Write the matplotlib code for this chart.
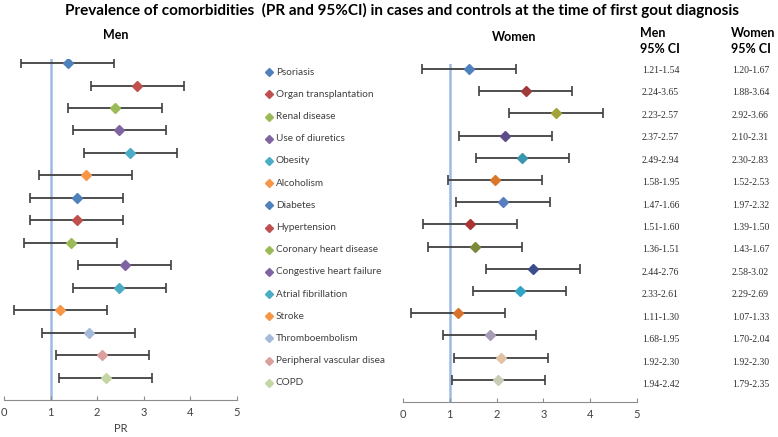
import matplotlib.pyplot as plt

# comorbidities, top to bottom
conditions = ["Psoriasis", "Organ transplantation", "Renal disease", "Use of diuretics",
              "Obesity", "Alcoholism", "Diabetes", "Hypertension", "Coronary heart disease",
              "Congestive heart failure", "Atrial fibrillation", "Stroke", "Thromboembolism",
              "Peripheral vascular disea", "COPD"]

# prevalence ratios
men_pr = [1.37, 2.86, 2.38, 2.47, 2.71, 1.75, 1.56, 1.56, 1.43, 2.59, 2.47, 1.21, 1.82, 2.11, 2.18]
women_pr = [1.41, 2.62, 3.27, 2.19, 2.55, 1.97, 2.14, 1.43, 1.54, 2.78, 2.49, 1.18, 1.85, 2.10, 2.04]
bar_err = 1.0  # the bars in the original are a fixed +/-1

men_ci = ["1.21-1.54", "2.24-3.65", "2.23-2.57", "2.37-2.57", "2.49-2.94", "1.58-1.95",
          "1.47-1.66", "1.51-1.60", "1.36-1.51", "2.44-2.76", "2.33-2.61", "1.11-1.30",
          "1.68-1.95", "1.92-2.30", "1.94-2.42"]
women_ci = ["1.20-1.67", "1.88-3.64", "2.92-3.66", "2.10-2.31", "2.30-2.83", "1.52-2.53",
            "1.97-2.32", "1.39-1.50", "1.43-1.67", "2.58-3.02", "2.29-2.69", "1.07-1.33",
            "1.70-2.04", "1.92-2.30", "1.79-2.35"]

men_colors = ["#4F81BD", "#C0504D", "#9BBB59", "#8064A2", "#4BACC6", "#F79646",
              "#4F81BD", "#C0504D", "#9BBB59", "#8064A2", "#4BACC6", "#F79646",
              "#A5B9DA", "#DB9F9D", "#C3D6A3"]
women_colors = ["#4F81BD", "#A0393A", "#A3A33A", "#5E4C8A", "#3A95AE", "#D9782C",
                "#5B7EC2", "#A83434", "#7A8A3A", "#3C4C8C", "#2FA6C8", "#D8722A",
                "#A79BB5", "#E2C2A4", "#C7CDB5"]

W, H = 778, 437
fig = plt.figure(figsize=(7.78, 4.37), dpi=100)
sans = ["Lato", "DejaVu Sans"]
grey = "#404040"


def px_axes(x0, x1, ytop, ybot):
    return fig.add_axes([x0 / W, 1 - ybot / H, (x1 - x0) / W, (ybot - ytop) / H])


def forest(ax, vals, colors, ytop):
    n = len(vals)
    for i, (v, c) in enumerate(zip(vals, colors)):
        y = n - i
        ax.errorbar(v, y, xerr=bar_err, fmt="none", ecolor=grey, elinewidth=1.3,
                    capsize=3.5, capthick=1.2, zorder=2)
        ax.plot(v, y, marker="D", ms=5, color=c, mec=c, zorder=3)
    ax.axvline(1, color="#9DBBE0", lw=1.8, zorder=1)
    ax.set_xlim(0, 5)
    ax.set_ylim(0, ytop)
    ax.set_xticks(range(6))
    ax.set_yticks([])
    for s in ["top", "right", "left"]:
        ax.spines[s].set_visible(False)
    ax.spines["bottom"].set_color("#8C8C8C")
    ax.tick_params(axis="x", direction="in", length=3, color="#8C8C8C",
                   labelsize=8, labelcolor=grey, pad=5)
    for lab in ax.get_xticklabels():
        lab.set_family(sans)
    ax.patch.set_alpha(0)


ax_m = px_axes(4, 237, 59, 400)
forest(ax_m, men_pr, men_colors, 15.18)
ax_m.set_xlabel("PR", fontsize=8, color=grey, family=sans, labelpad=4)

ax_w = px_axes(403, 637, 64, 402)
forest(ax_w, women_pr, women_colors, 15.23)

# legend drawn in its own axes so rows line up with the panels
ax_l = px_axes(262, 400, 60, 395)
ax_l.set_xlim(0, 1)
ax_l.set_ylim(0.45, 15.55)
ax_l.axis("off")
n = len(conditions)
for i, (name, c) in enumerate(zip(conditions, men_colors)):
    y = n - i
    ax_l.plot(0.05, y, marker="D", ms=4, color=c)
    ax_l.text(0.1, y, name, fontsize=7.2, color=grey, family=sans, va="center")

# CI table
row0, step = 70.5, 22.43
for i in range(n):
    yy = 1 - (row0 + i * step) / H
    fig.text(642 / W, yy, men_ci[i], fontsize=7, family="Liberation Serif",
             color="#303030", va="center")
    fig.text(732 / W, yy, women_ci[i], fontsize=7, family="Liberation Serif",
             color="#303030", va="center")

for x, head in [(640, "Men"), (731, "Women")]:
    fig.text(x / W, 1 - 33 / H, head, fontsize=9, fontweight="bold", family=sans, va="center")
    fig.text(x / W, 1 - 49 / H, "95% CI", fontsize=9, fontweight="bold", family=sans, va="center")

fig.text(116 / W, 1 - 35 / H, "Men", fontsize=9, fontweight="bold", family=sans,
         ha="center", va="center")
fig.text(514 / W, 1 - 37 / H, "Women", fontsize=9, fontweight="bold", family=sans,
         ha="center", va="center")
fig.text(402 / W, 1 - 10 / H,
         "Prevalence of comorbidities  (PR and 95%CI) in cases and controls at the time of first gout diagnosis",
         fontsize=11, fontweight="bold", family=sans, ha="center", va="center")

fig.savefig("out.png", dpi=100)
